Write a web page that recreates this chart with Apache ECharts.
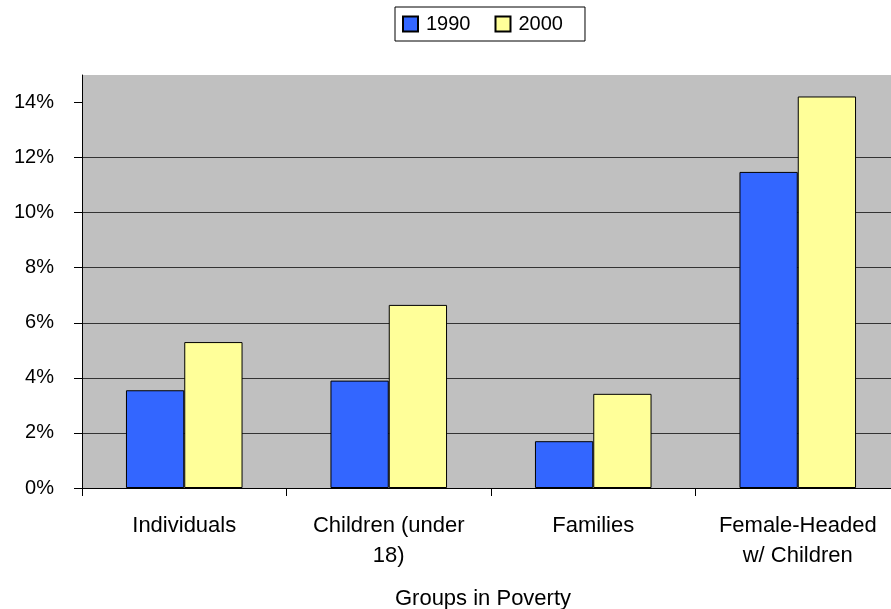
<!DOCTYPE html>
<html>
<head>
<meta charset="utf-8">
<script src="https://cdn.jsdelivr.net/npm/echarts@6/dist/echarts.min.js"></script>
<style>
  html, body { margin: 0; padding: 0; background: #fff; }
  #chart { width: 891px; height: 609px; }
</style>
</head>
<body>
<div id="chart"></div>
<script>
// groups on the x axis
var groups = ['Individuals', 'Children (under\n18)', 'Families', 'Female-Headed\nw/ Children'];
// percent of each group in poverty
var y1990 = [3.55, 3.9, 1.7, 11.48];
var y2000 = [5.3, 6.65, 3.42, 14.22];
// y axis ticks
var yTicks = [0, 2, 4, 6, 8, 10, 12, 14];

var font = 'Liberation Sans, Arial, sans-serif';

var option = {
    animation: false,
    backgroundColor: '#fff',
    textStyle: { fontFamily: font },
    legend: {
        data: ['1990', '2000'],
        icon: 'rect',
        left: 395,
        top: 7,
        orient: 'horizontal',
        itemWidth: 15,
        itemHeight: 15,
        itemGap: 24,
        padding: [7, 22, 7, 7],
        borderColor: '#000',
        borderWidth: 1,
        backgroundColor: '#fff',
        textStyle: { fontSize: 20, color: '#000', fontFamily: font, padding: [0, 0, 0, 3] }
    },
    grid: {
        left: 82,
        top: 75,
        right: -9,
        bottom: 121,
        outerBoundsMode: 'none',
        containLabel: false,
        show: true,
        backgroundColor: '#c0c0c0',
        borderWidth: 0
    },
    xAxis: {
        type: 'category',
        data: groups,
        name: 'Groups in Poverty',
        nameLocation: 'middle',
        nameGap: 99.5,
        nameTextStyle: { fontSize: 22, color: '#000', fontFamily: font, padding: [0, 16, 0, 0] },
        axisLine: { lineStyle: { color: '#000', width: 1 } },
        axisTick: { show: true, interval: 0, length: 8, lineStyle: { color: '#000' } },
        axisLabel: {
            interval: 0, hideOverlap: false,
            fontSize: 22, color: '#000', fontFamily: font, lineHeight: 30, margin: 23
        }
    },
    yAxis: {
        type: 'value',
        min: 0,
        max: 15,
        interval: 2,
        axisLine: { show: true, lineStyle: { color: '#000', width: 1 } },
        axisTick: { show: true, length: 8, customValues: yTicks, lineStyle: { color: '#000' } },
        axisLabel: {
            fontSize: 20, color: '#000', fontFamily: font, margin: 28,
            customValues: yTicks,
            formatter: function (v) { return v + '%'; }
        },
        splitLine: { show: true, showMaxLine: false, lineStyle: { color: '#333', width: 1 } }
    },
    series: [
        {
            name: '1990',
            type: 'bar',
            data: y1990,
            barGap: 0,
            barCategoryGap: '43%',
            itemStyle: { color: '#3366ff', borderColor: '#000', borderWidth: 1 }
        },
        {
            name: '2000',
            type: 'bar',
            data: y2000,
            barGap: 0,
            barCategoryGap: '43%',
            itemStyle: { color: '#ffff99', borderColor: '#000', borderWidth: 1 }
        }
    ]
};

echarts.init(document.getElementById('chart')).setOption(option);
</script>
</body>
</html>
